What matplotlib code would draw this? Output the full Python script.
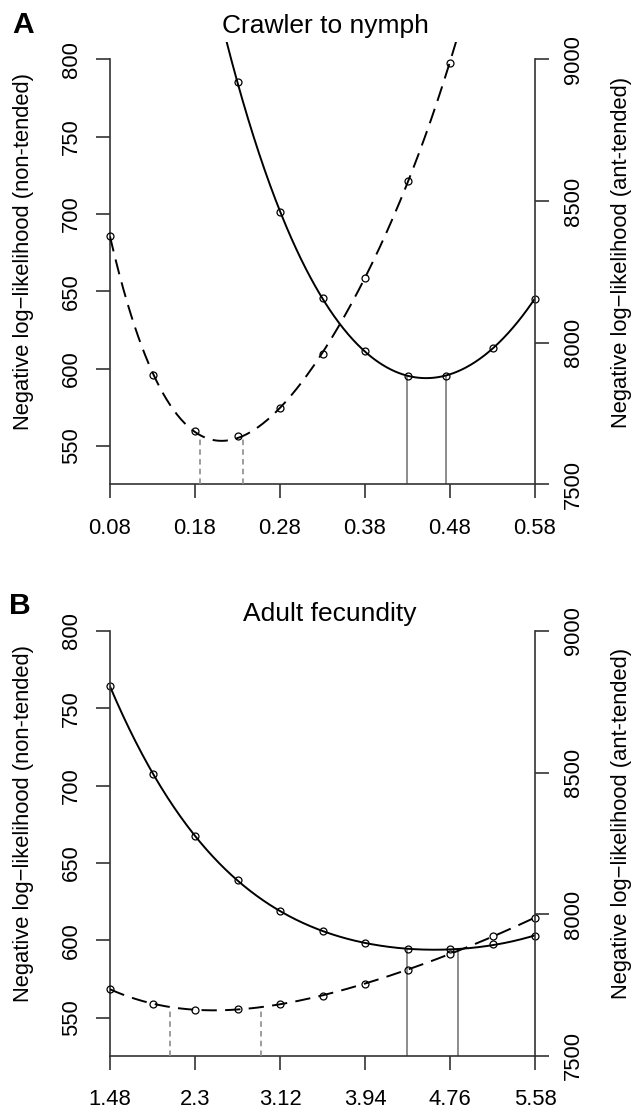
import numpy as np
import matplotlib.pyplot as plt

plt.rcParams['font.family'] = ['Liberation Sans', 'DejaVu Sans']
plt.rcParams['lines.scale_dashes'] = False

# panel A - crawler to nymph
a_x_non = [0.23, 0.28, 0.33, 0.38, 0.43, 0.475, 0.53, 0.58]
a_y_non = [785.2, 701.4, 645.7, 611.2, 595.3, 595.1, 613.4, 645.3]
a_x_ant = [0.08, 0.13, 0.18, 0.23, 0.28, 0.33, 0.38, 0.43, 0.48]
a_y_ant = [8378, 7886, 7688, 7671, 7768, 7959, 8227, 8572, 8989]
a_ci_non = [0.429, 0.475]
a_ci_non_top = [595.3, 595.3]
a_ci_ant = [0.186, 0.237]
a_ci_ant_top = [7672, 7668]
a_xticks = [0.08, 0.18, 0.28, 0.38, 0.48, 0.58]
a_xlabels = ['0.08', '0.18', '0.28', '0.38', '0.48', '0.58']

# panel B - adult fecundity
b_x = [1.48, 1.89, 2.30, 2.71, 3.12, 3.53, 3.94, 4.35, 4.76, 5.17, 5.58]
b_y_non = [764.5, 707.5, 667.5, 639.2, 619.2, 605.9, 597.9, 594.1, 594.3, 597.3, 602.9]
b_y_ant = [7736, 7683, 7663, 7665, 7683, 7713, 7755, 7804, 7860, 7922, 7988]
b_ci_non = [4.342, 4.84]
b_ci_non_top = [594.3, 594.3]
b_ci_ant = [2.059, 2.933]
b_ci_ant_top = [7670, 7670]
b_xticks = [1.48, 2.3, 3.12, 3.94, 4.76, 5.58]
b_xlabels = ['1.48', '2.3', '3.12', '3.94', '4.76', '5.58']

left_ticks = [550, 600, 650, 700, 750, 800]
right_ticks = [7500, 8000, 8500, 9000]

W, H = 638, 1113
FS = 15.8
GREY = '#8c8c8c'
AXC = '#333333'
YLO, YHI = 525.2, 811
RLO, RHI = 7500, 9060.1


def panel(top_px, x_non, y_non, x_ant, y_ant, fit_non, fit_ant,
          ci_non, ci_non_top, ci_ant, ci_ant_top, xticks, xlabels):
    bot_px = top_px + 441.9
    ax = fig.add_axes([110 / W, 1 - bot_px / H, 425 / W, 441.9 / H])
    ax.patch.set_visible(False)
    ax.set_xlim(xticks[0], xticks[-1])
    ax.set_ylim(YLO, YHI)
    ax2 = ax.twinx()
    ax2.set_ylim(RLO, RHI)

    # confidence limits
    ax.vlines(ci_non, YLO, ci_non_top, colors=GREY, lw=1.4)
    ax2.vlines(ci_ant, RLO, ci_ant_top, colors=GREY, lw=1.2,
               linestyles=[(0, (4, 3))])

    # smoothed profiles
    xx = np.linspace(fit_non[0], fit_non[1], 400)
    ax.plot(xx, np.polyval(np.polyfit(x_non, y_non, 4), xx), color='k', lw=1.4)
    xx = np.linspace(fit_ant[0], fit_ant[1], 400)
    ax2.plot(xx, np.polyval(np.polyfit(x_ant, y_ant, 4), xx), color='k',
             lw=1.4, ls=(0, (11, 6)))

    ax.plot(x_non, y_non, 'o', mfc='none', mec='k', ms=5, mew=0.9, clip_on=False)
    ax2.plot(x_ant, y_ant, 'o', mfc='none', mec='k', ms=5, mew=0.9, clip_on=False)

    for s in ['top', 'right']:
        ax.spines[s].set_visible(False)
    for s in ['top', 'left', 'bottom']:
        ax2.spines[s].set_visible(False)
    ax.spines['left'].set_bounds(YLO, 800)
    ax2.spines['right'].set_bounds(7500, 9000)
    for sp in [ax.spines['left'], ax.spines['bottom'], ax2.spines['right']]:
        sp.set_color(AXC)
        sp.set_linewidth(1.2)

    ax.set_xticks(xticks)
    ax.set_xticklabels(xlabels)
    ax.set_yticks(left_ticks)
    ax2.set_yticks(right_ticks)
    ax.tick_params(axis='x', length=10, width=1.2, color=AXC, pad=14, labelsize=FS)
    ax.tick_params(axis='y', length=10, width=1.2, color=AXC, pad=10, labelsize=FS,
                   labelrotation=90)
    ax2.tick_params(axis='y', length=10, width=1.2, color=AXC, pad=10, labelsize=FS,
                    labelrotation=90)
    for t in ax.get_yticklabels() + ax2.get_yticklabels():
        t.set_va('center')
    return ax


fig = plt.figure(figsize=(W / 100, H / 100), dpi=100)

panel(42.4, a_x_non, a_y_non, a_x_ant, a_y_ant, (0.21, 0.58), (0.08, 0.495),
      a_ci_non, a_ci_non_top, a_ci_ant, a_ci_ant_top, a_xticks, a_xlabels)
panel(614.0, b_x, b_y_non, b_x, b_y_ant, (1.48, 5.58), (1.48, 5.58),
      b_ci_non, b_ci_non_top, b_ci_ant, b_ci_ant_top, b_xticks, b_xlabels)

fig.text(325.8 / W, 1 - 33.3 / H, 'Crawler to nymph', ha='center', va='baseline', fontsize=19)
fig.text(330 / W, 1 - 620.7 / H, 'Adult fecundity', ha='center', va='baseline', fontsize=19)
fig.text(12 / W, 1 - 33 / H, 'A', fontweight='bold', fontsize=21.6, va='baseline')
fig.text(9 / W, 1 - 614.3 / H, 'B', fontweight='bold', fontsize=21.6, va='baseline')

for yc in [252, 252 + 571.6]:
    fig.text(24 / W, 1 - yc / H, 'Negative log\u2212likelihood (non-tended)', rotation=90,
             ha='center', va='center', fontsize=FS)
    fig.text(621 / W, 1 - yc / H, 'Negative log\u2212likelihood (ant-tended)', rotation=90,
             ha='center', va='center', fontsize=FS)

fig.savefig('out.png', dpi=100)
